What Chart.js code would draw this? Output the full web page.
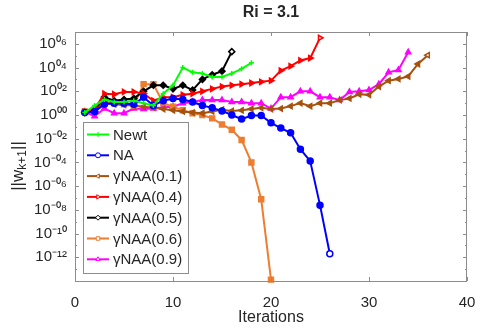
<!DOCTYPE html>
<html>
<head>
<meta charset="utf-8">
<script src="https://cdn.jsdelivr.net/npm/chart.js@4.4.0/dist/chart.umd.min.js"></script>
<style>
  html, body { margin: 0; padding: 0; background: #fff; }
</style>
</head>
<body>
<canvas id="riChart" width="478" height="327"></canvas>
<script>
// values, iteration k = 1, 2, 3 ...
var seriesNames = ['Newt', 'NA', 'γNAA(0.1)', 'γNAA(0.4)', 'γNAA(0.5)', 'γNAA(0.6)', 'γNAA(0.9)'];

var newtVals = [1.6, 6.3, 20, 12.6, 12.6, 16, 10, 6.3, 63, 316, 1e4, 4e3, 3.2e3, 1.6e3, 1.6e3, 3.2e3, 7.9e3, 2.5e4];
var naVals = [1.6, 2.0, 7.9, 10, 10, 7.9, 32, 6.3, 16, 25, 20, 12.6, 6.3, 4.0, 2.2, 1.0, 0.45, 0.9, 0.9, 0.22,
              0.079, 0.032, 1.3e-3, 1.3e-4, 2.5e-8, 2e-12];
var naa01Vals = [1.6, 2.0, 12.6, 7.9, 7.1, 6.3, 5.0, 4.0, 3.2, 2.5, 2.0, 1.6, 1.4, 2.0, 2.8, 2.2, 2.5, 3.2, 4.0, 3.2,
                 3.5, 5.6, 10, 5.6, 10, 10, 18, 25, 56, 50, 250, 790, 1.1e3, 1.8e3, 2e4, 1.1e5];
var naa04Vals = [1.8, 3.2, 63, 56, 89, 89, 63, 16, 32, 32, 50, 63, 100, 160, 250, 320, 400, 500, 630, 790,
                 5.6e3, 1.3e4, 4e4, 6.3e4, 3.2e6];
var naa05Vals = [1.6, 2.0, 32, 16, 20, 25, 100, 320, 320, 160, 320, 126, 1e3, 2.5e3, 5e3, 2.2e5];
var naa06Vals = [2.0, 2.5, 12.6, 10, 7.9, 6.3, 400, 400, 10, 5.0, 2.5, 1.4, 1.0, 0.52, 0.16, 0.056, 7.9e-3, 1e-4,
                 7.9e-8, 1.3e-14];
var naa09Vals = [1.9, 0.79, 3.5, 1.4, 1.4, 3.5, 3.2, 3.5, 4.5, 5.0, 10, 12.6, 18, 18, 18, 12.6, 12.6, 10, 10, 3.5,
                 32, 32, 100, 100, 32, 32, 18, 89, 100, 126, 400, 4e3, 6.3e3, 2e5];

var xTicks = [0, 10, 20, 30, 40];
var yTicks = [1e-12, 1e-10, 1e-8, 1e-6, 1e-4, 1e-2, 1, 1e2, 1e4, 1e6];
var yTickLabels = ['10⁻¹²', '10⁻¹⁰', '10⁻⁰⁸', '10⁻⁰⁶', '10⁻⁰⁴', '10⁻⁰²', '10⁰⁰', '10⁰²', '10⁰⁴', '10⁰⁶'];

var allVals = [newtVals, naVals, naa01Vals, naa04Vals, naa05Vals, naa06Vals, naa09Vals];
var colors = ['#00ff00', '#0000ff', '#a5520f', '#ff0000', '#000000', '#ed7d31', '#ff00ff'];
var markers = ['cross', 'circle', 'triangle', 'triangle', 'rectRot', 'rect', 'triangle'];
var rotations = [0, 0, -90, 90, 0, 0, 0];
var sizes = [2.5, 3, 3, 3, 3, 3.5, 3];
var hollowEnd = [false, true, true, true, true, false, false];

var fontName = '"Liberation Sans", Arial, Helvetica, sans-serif';
var textColor = '#262626';
var axisColor = '#8c8c8c';

function toPoints(vals) {
  return vals.map(function(v, i) { return { x: i + 1, y: v }; });
}

var datasets = allVals.map(function(vals, i) {
  return {
    label: seriesNames[i],
    data: toPoints(vals),
    borderColor: colors[i],
    borderWidth: 2,
    pointStyle: markers[i],
    pointRotation: rotations[i],
    pointRadius: sizes[i],
    pointBorderWidth: 1.5,
    pointBorderColor: colors[i],
    pointBackgroundColor: function(ctx) {
      if (hollowEnd[i] && ctx.dataIndex === vals.length - 1) return '#ffffff';
      return colors[i];
    },
    tension: 0,
    clip: 6
  };
});

// axes frame with inward ticks, like the original
var frame = {
  id: 'frame',
  afterDraw: function(chart) {
    var ctx = chart.ctx, a = chart.chartArea;
    var xs = chart.scales.x, ys = chart.scales.y;
    ctx.save();
    ctx.strokeStyle = axisColor;
    ctx.lineWidth = 1;
    ctx.strokeRect(Math.round(a.left) + 0.5, Math.round(a.top) + 0.5, Math.round(a.width) - 1, Math.round(a.height));
    ctx.beginPath();
    xTicks.forEach(function(t) {
      var px = Math.round(xs.getPixelForValue(t)) + 0.5;
      ctx.moveTo(px, a.bottom); ctx.lineTo(px, a.bottom - 4);
      ctx.moveTo(px, a.top); ctx.lineTo(px, a.top + 4);
    });
    for (var e = -13; e <= 6; e++) {
      var py = Math.round(ys.getPixelForValue(Math.pow(10, e))) + 0.5;
      var len = (e % 2 === 0) ? 4 : 2;
      ctx.moveTo(a.left, py); ctx.lineTo(a.left + len, py);
      ctx.moveTo(a.right, py); ctx.lineTo(a.right - len, py);
    }
    ctx.stroke();

    // y axis label with subscript
    ctx.fillStyle = textColor;
    ctx.translate(18, 166);
    ctx.rotate(-Math.PI / 2);
    ctx.textBaseline = 'middle';
    ctx.textAlign = 'left';
    var big = '17px ' + fontName, small = '12px ' + fontName;
    ctx.font = big; var w1 = ctx.measureText('||w').width, w3 = ctx.measureText('||').width;
    ctx.font = small; var w2 = ctx.measureText('k+1').width;
    var x0 = -(w1 + w2 + w3) / 2;
    ctx.font = big; ctx.fillText('||w', x0, 0);
    ctx.font = small; ctx.fillText('k+1', x0 + w1, 5);
    ctx.font = big; ctx.fillText('||', x0 + w1 + w2, 0);
    ctx.restore();
  }
};

// legend box inside the plot
var legendBox = {
  id: 'legendBox',
  afterDatasetsDraw: function(chart) {
    var ctx = chart.ctx, a = chart.chartArea;
    var left = a.left + 8, top = a.top + 90, w = 105, h = 151;
    ctx.save();
    ctx.fillStyle = '#ffffff';
    ctx.fillRect(left, top, w, h);
    ctx.strokeStyle = axisColor;
    ctx.lineWidth = 1;
    ctx.strokeRect(Math.round(left) + 0.5, Math.round(top) + 0.5, w, h);
    ctx.font = '15px ' + fontName;
    ctx.textBaseline = 'middle';
    ctx.textAlign = 'left';
    chart.data.datasets.forEach(function(ds, i) {
      var y = top + 12.5 + i * 20.8;
      ctx.strokeStyle = ds.borderColor;
      ctx.lineWidth = 2;
      ctx.beginPath();
      ctx.moveTo(left + 4, y); ctx.lineTo(left + 26, y);
      ctx.stroke();
      if (Chart.helpers && Chart.helpers.drawPoint) {
        ctx.fillStyle = '#ffffff';
        ctx.lineWidth = 1;
        Chart.helpers.drawPoint(ctx, { pointStyle: ds.pointStyle, rotation: ds.pointRotation, radius: 2.5, borderWidth: 1 }, left + 15, y);
      }
      ctx.fillStyle = textColor;
      ctx.fillText(ds.label, left + 30, y + 1);
    });
    ctx.restore();
  }
};

var riChart = new Chart(document.getElementById('riChart'), {
  type: 'line',
  data: { datasets: datasets },
  options: {
    responsive: false,
    animation: false,
    devicePixelRatio: 1,
    layout: { padding: { left: 0, right: 11, top: 0, bottom: 0 } },
    plugins: {
      legend: { display: false },
      tooltip: { enabled: false },
      title: {
        display: true,
        text: 'Ri = 3.1',
        fullSize: false,
        color: textColor,
        font: { family: fontName, size: 16, weight: 'bold' },
        padding: { top: 3, bottom: 9.8 }
      }
    },
    scales: {
      x: {
        type: 'linear',
        min: 0,
        max: 40,
        afterBuildTicks: function(s) { s.ticks = xTicks.map(function(v) { return { value: v }; }); },
        afterFit: function(s) { s.height = 46; s.paddingLeft = 0; s.paddingRight = 0; },
        grid: { display: false, drawTicks: false },
        border: { display: false },
        ticks: { color: textColor, padding: 13, maxRotation: 0, font: { family: fontName, size: 15 } },
        title: {
          display: true,
          text: 'Iterations',
          color: textColor,
          padding: { top: 0, bottom: 0 },
          font: { family: fontName, size: 16 }
        }
      },
      y: {
        type: 'logarithmic',
        min: 1e-14,
        max: 1e7,
        afterBuildTicks: function(s) { s.ticks = yTicks.map(function(v) { return { value: v }; }); },
        afterFit: function(s) { s.width = 75; s.paddingTop = 0; s.paddingBottom = 0; },
        grid: { display: false, drawTicks: false },
        border: { display: false },
        ticks: {
          color: textColor,
          padding: 8,
          font: { family: fontName, size: 15 },
          callback: function(value, index) { return yTickLabels[index]; }
        }
      }
    }
  },
  plugins: [legendBox, frame]
});
</script>
</body>
</html>
